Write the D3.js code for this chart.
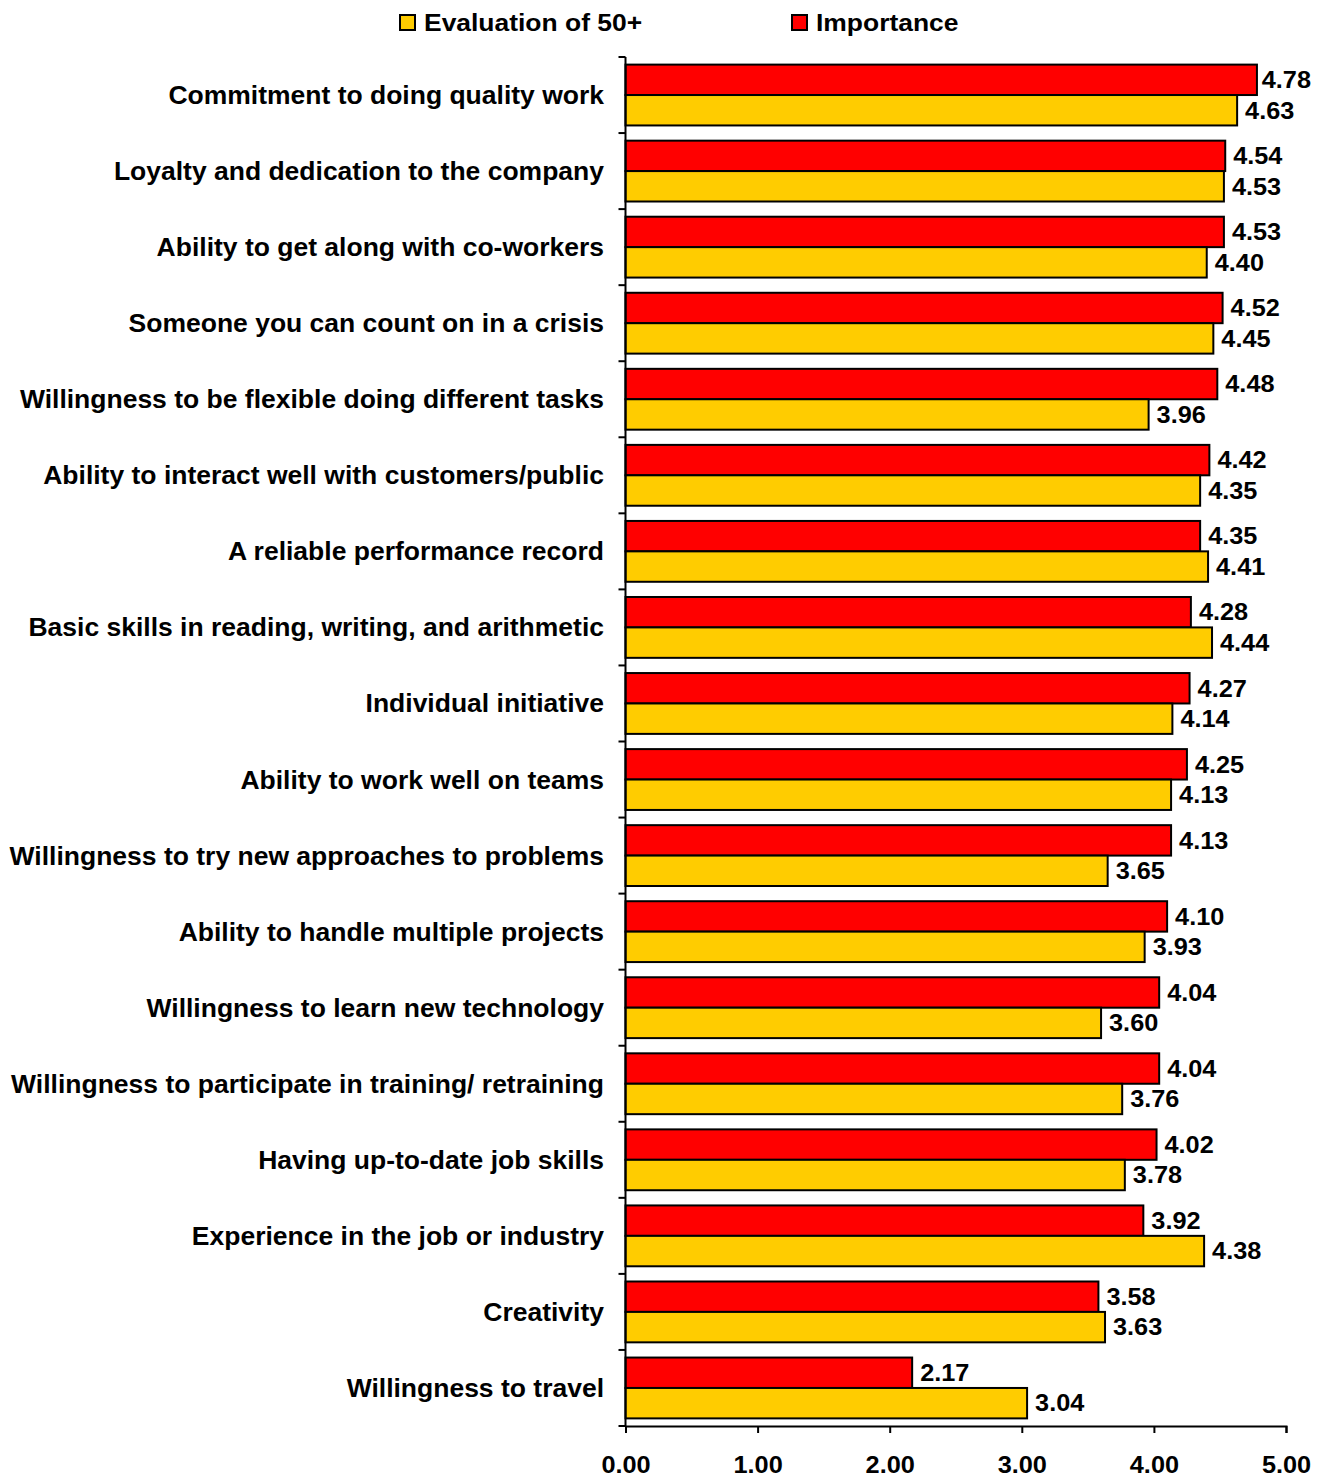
<!DOCTYPE html>
<html><head><meta charset="utf-8">
<script src="https://cdn.jsdelivr.net/npm/d3@7"></script>
<style>body{margin:0;background:#fff}svg{display:block}text{font-family:"Liberation Sans",Arial,sans-serif;font-weight:bold}</style>
</head><body>
<script>
const categories = ["Commitment to doing quality work","Loyalty and dedication to the company","Ability to get along with co-workers","Someone you can count on in a crisis","Willingness to be flexible doing different tasks","Ability to interact well with customers/public","A reliable performance record","Basic skills in reading, writing, and arithmetic","Individual initiative","Ability to work well on teams","Willingness to try new approaches to problems","Ability to handle multiple projects","Willingness to learn new technology","Willingness to participate in training/ retraining","Having up-to-date job skills","Experience in the job or industry","Creativity","Willingness to travel"];
const importance = [4.78,4.54,4.53,4.52,4.48,4.42,4.35,4.28,4.27,4.25,4.13,4.10,4.04,4.04,4.02,3.92,3.58,2.17];
const evaluation = [4.63,4.53,4.40,4.45,3.96,4.35,4.41,4.44,4.14,4.13,3.65,3.93,3.60,3.76,3.78,4.38,3.63,3.04];
const seriesNames = ["Evaluation of 50+","Importance"];
const tickValues = [0,1,2,3,4,5];

const W=1327,H=1480;
const svg=d3.select("body").append("svg").attr("width",W).attr("height",H);
const x=d3.scaleLinear().domain([0,5]).range([625.5,1286]);
const y=d3.scaleBand().domain(categories).range([57,1426]).paddingInner(0.2).paddingOuter(0.1);
const sub=d3.scaleBand().domain(["imp","eval"]).range([0,y.bandwidth()]);
const colors={imp:"#FF0000",eval:"#FFCC00"};
const NUM_FS=23, NUM_SX=1.1, CAT_FS=25, CAT_SX=1.06, LEG_FS=23, LEG_SX=1.15;
const RIGHT_LIMIT=1311;

const rows=categories.map((c,i)=>({c,imp:importance[i],eval:evaluation[i]}));
const g=svg.append("g");
["imp","eval"].forEach(k=>{
  g.selectAll("rect."+k).data(rows).join("rect").attr("class",k)
   .attr("x",x(0)).attr("y",d=>y(d.c)+sub(k)).attr("width",d=>x(d[k])-x(0)).attr("height",sub.bandwidth())
   .attr("fill",colors[k]).attr("stroke","#000").attr("stroke-width",2);
  g.selectAll("text."+k).data(rows).join("text").attr("class",k)
   .attr("dy","0.36em").attr("font-size",NUM_FS).attr("fill","#000").text(d=>d[k].toFixed(2))
   .attr("transform",function(d){
     const w=this.getComputedTextLength()*NUM_SX;
     const tx=Math.min(x(d[k])+8,RIGHT_LIMIT-w);
     return `translate(${tx},${y(d.c)+sub(k)+sub.bandwidth()/2}) scale(${NUM_SX},1)`;
   });
});

// y axis line and boundary ticks
svg.append("line").attr("x1",x(0)).attr("x2",x(0)).attr("y1",57).attr("y2",1426).attr("stroke","#000").attr("stroke-width",2);
const bounds=d3.range(categories.length+1).map(i=>57+i*y.step());
svg.selectAll("line.yt").data(bounds).join("line").attr("class","yt")
  .attr("x1",x(0)-7).attr("x2",x(0)).attr("y1",d=>d).attr("y2",d=>d).attr("stroke","#000").attr("stroke-width",2);
svg.selectAll("text.cat").data(categories).join("text").attr("class","cat")
  .attr("transform",d=>`translate(604,${y(d)+y.bandwidth()/2}) scale(${CAT_SX},1)`)
  .attr("dy","0.36em").attr("text-anchor","end").attr("font-size",CAT_FS).text(d=>d);

// x axis
const xa=svg.append("g").attr("transform","translate(0,1426)")
  .call(d3.axisBottom(x).tickValues(tickValues).tickFormat(d3.format(".2f")).tickSize(7).tickPadding(24));
xa.select(".domain").attr("stroke","#000").attr("stroke-width",2);
xa.selectAll(".tick line").attr("stroke","#000").attr("stroke-width",2);
xa.selectAll(".tick text").attr("font-size",NUM_FS).attr("font-family","Liberation Sans, Arial, sans-serif")
  .attr("font-weight","bold").attr("fill","#000").attr("transform",`scale(${NUM_SX},1)`);

// legend
const leg=[{n:seriesNames[0],c:"#FFCC00",x:400},{n:seriesNames[1],c:"#FF0000",x:792}];
leg.forEach(l=>{
  svg.append("rect").attr("x",l.x).attr("y",15).attr("width",15).attr("height",15).attr("fill",l.c).attr("stroke","#000").attr("stroke-width",2);
  svg.append("text").attr("transform",`translate(${l.x+24},22.5) scale(${LEG_SX},1)`).attr("dy","0.36em").attr("font-size",LEG_FS).text(l.n);
});
</script>
</body></html>
